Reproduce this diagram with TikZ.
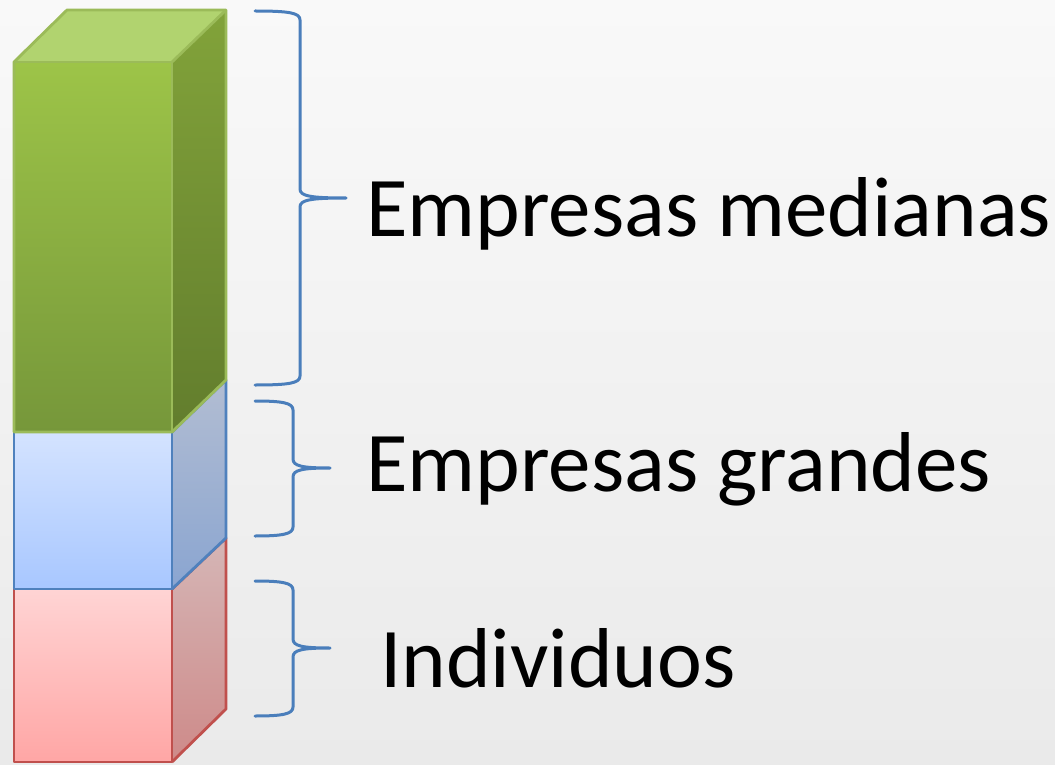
\documentclass[tikz,border=0pt]{standalone}
\usepackage{fontspec}
\setmainfont{Carlito}
\definecolor{bgtop}{HTML}{F9F9F9}
\definecolor{bgbot}{HTML}{EAEAEA}
\definecolor{gfT}{HTML}{9DC448}
\definecolor{gfB}{HTML}{76973A}
\definecolor{gtop}{HTML}{B1D36F}
\definecolor{grT}{HTML}{82A33A}
\definecolor{grB}{HTML}{627D2D}
\definecolor{gedge}{HTML}{9BBB59}
\definecolor{bfT}{HTML}{D4E3FF}
\definecolor{bfB}{HTML}{A8C7FF}
\definecolor{brT}{HTML}{B2BDD2}
\definecolor{brB}{HTML}{8AA5D1}
\definecolor{bedge}{HTML}{4F81BD}
\definecolor{rfT}{HTML}{FFD4D4}
\definecolor{rfB}{HTML}{FFA6A5}
\definecolor{rrT}{HTML}{D5B6B6}
\definecolor{rrB}{HTML}{CE8A89}
\definecolor{redge}{HTML}{C0504D}
\definecolor{bracec}{HTML}{4A7EBB}
\tikzset{
  face/.style={line width=2.8pt, line join=round},
  bracestyle/.style={draw=bracec, line width=3pt, line cap=round, line join=round},
  label/.style={anchor=base west, inner sep=0pt, font=\fontsize{85}{92}\selectfont, text=black}
}
\begin{document}
\begin{tikzpicture}[x=1pt,y=-1pt]
\useasboundingbox (0,0) rectangle (1055,765);
\shade[top color=bgtop, bottom color=bgbot] (0,0) rectangle (1055,765);
% red box
\shade[top color=rfT, bottom color=rfB] (14,589) rectangle (172,762);
\shade[top color=rrT, bottom color=rrB] (172,589) -- (226,538) -- (226,709) -- (172,762) -- cycle;
\draw[face, draw=redge] (14,589) rectangle (172,762);
\draw[face, draw=redge] (172,589) -- (226,538) -- (226,709) -- (172,762);
% blue box
\shade[top color=bfT, bottom color=bfB] (14,432) rectangle (172,589);
\shade[top color=brT, bottom color=brB] (172,432) -- (226,380) -- (226,538) -- (172,589) -- cycle;
\draw[face, draw=bedge] (14,432) rectangle (172,589);
\draw[face, draw=bedge] (172,432) -- (226,380) -- (226,538) -- (172,589);
% green box
\shade[top color=gfT, bottom color=gfB] (14,62) rectangle (172,432);
\fill[gtop] (14,62) -- (67,10) -- (226,10) -- (172,62) -- cycle;
\shade[top color=grT, bottom color=grB] (172,62) -- (226,10) -- (226,380) -- (172,432) -- cycle;
\draw[face, draw=gedge] (14,62) -- (67,10) -- (226,10) -- (226,380) -- (172,432) -- (14,432) -- cycle;
\draw[face, draw=gedge] (14,62) -- (172,62) -- (172,432);
\draw[face, draw=gedge] (172,62) -- (226,10);
% braces
\draw[bracestyle] (255,11) .. controls (290,11) and (300,13) .. (300,20) -- (300,189)
  .. controls (300,196) and (310,198) .. (346,198)
  .. controls (310,198) and (300,200) .. (300,207) -- (300,376)
  .. controls (300,383) and (290,385) .. (255,385);
\draw[bracestyle] (255,401) .. controls (283,401) and (293,403) .. (293,410) -- (293,459)
  .. controls (293,466) and (302,468) .. (330,468)
  .. controls (302,468) and (293,470) .. (293,477) -- (293,527)
  .. controls (293,534) and (283,536) .. (255,536);
\draw[bracestyle] (255,581) .. controls (283,581) and (293,583) .. (293,590) -- (293,639)
  .. controls (293,646) and (302,648) .. (330,648)
  .. controls (302,648) and (293,650) .. (293,657) -- (293,707)
  .. controls (293,714) and (283,716) .. (255,716);
% labels
\node[label] (med) at (366,236) {Empresas medianas};
\node[label] (gra) at (366,491) {Empresas grandes};
\node[label] (ind) at (380,687) {Individuos};
\end{tikzpicture}
\end{document}
